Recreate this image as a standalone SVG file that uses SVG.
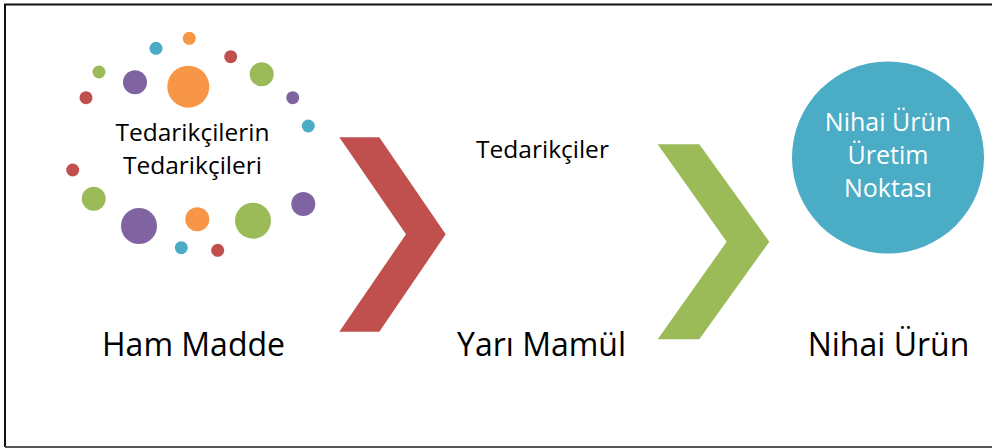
<svg xmlns="http://www.w3.org/2000/svg" width="992" height="448" viewBox="0 0 992 448">
<style>
.t{font-family:"Open Sans","Noto Sans",sans-serif;fill:#000;text-anchor:middle}
.s{font-size:24.5px}
.l{font-size:32px}
.w{font-family:"Open Sans","Noto Sans",sans-serif;fill:#fff;text-anchor:middle;font-size:25px}
.r{fill:#C0504D}.g{fill:#9BBB59}.p{fill:#8064A2}.o{fill:#F79646}.c{fill:#4BACC6}
</style>
<rect x="0" y="0" width="992" height="448" fill="#fff"/>
<path d="M1000 4.5 H5 V447" fill="none" stroke="#111" stroke-width="2"/>
<line x1="5" y1="447" x2="992" y2="447" stroke="#555" stroke-width="2"/>
<g id="suppliers-of-suppliers">
<circle class="o" cx="189.3" cy="38.3" r="6.5"/>
<circle class="c" cx="156" cy="48.3" r="6.5"/>
<circle class="r" cx="230.7" cy="56.7" r="6.5"/>
<circle class="g" cx="99" cy="72" r="6.5"/>
<circle class="p" cx="135" cy="82.3" r="12"/>
<circle class="o" cx="188.3" cy="86.7" r="21"/>
<circle class="g" cx="261.7" cy="74.3" r="12"/>
<circle class="r" cx="86" cy="97.7" r="6.5"/>
<circle class="p" cx="292.7" cy="97.7" r="6.5"/>
<circle class="c" cx="308.3" cy="126" r="6.5"/>
<circle class="r" cx="72.7" cy="170" r="6.5"/>
<circle class="g" cx="93.7" cy="198.7" r="12"/>
<circle class="p" cx="139" cy="226" r="18"/>
<circle class="o" cx="197.3" cy="219.3" r="12"/>
<circle class="g" cx="253" cy="220.7" r="18"/>
<circle class="p" cx="303.3" cy="204" r="12"/>
<circle class="c" cx="181.3" cy="247.7" r="6.5"/>
<circle class="r" cx="217.7" cy="250.3" r="6.5"/>
<text class="t s" x="192.5" y="140.5">Tedarikçilerin</text>
<text class="t s" x="192.5" y="173.5">Tedarikçileri</text>
</g>
<g id="connectors">
<polygon class="r" points="339.3,137.3 379.3,137.3 445.7,234.3 379.3,331.7 339.3,331.7 406,234.3"/>
<polygon class="g" points="657.7,144.3 699.3,144.3 769.3,241.7 699.3,339.3 657.7,339.3 726.7,241.7"/>
</g>
<g id="suppliers">
<text class="t s" x="542.5" y="158">Tedarikçiler</text>
</g>
<g id="final-production">
<circle class="c" cx="888" cy="157.5" r="96"/>
<text class="w" x="888" y="131">Nihai Ürün</text>
<text class="w" x="888" y="164">Üretim</text>
<text class="w" x="888" y="196.5">Noktası</text>
</g>
<g id="labels">
<text class="t l" x="193.5" y="356">Ham Madde</text>
<text class="t l" x="541.5" y="356">Yarı Mamül</text>
<text class="t l" x="888.5" y="356">Nihai Ürün</text>
</g>
</svg>
